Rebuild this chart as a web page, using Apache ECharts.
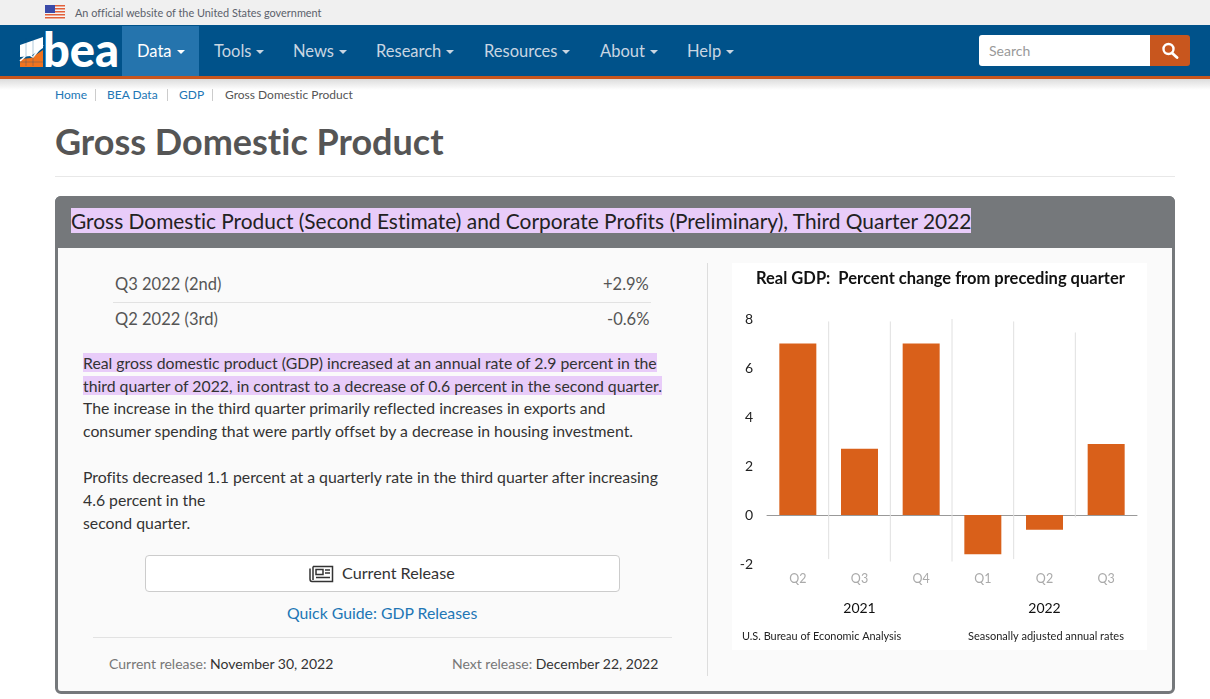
<!DOCTYPE html>
<html lang="en">
<head>
<meta charset="utf-8">
<title>Gross Domestic Product</title>
<script src="https://cdn.jsdelivr.net/npm/echarts@6/dist/echarts.min.js"></script>
<style>
  html, body { margin: 0; height: 100%; background: #fff; overflow: hidden; font-family: Lato, sans-serif; color: #333; font-variant-ligatures: none; }
  .abs, .abs * { box-sizing: border-box; }
  .abs { position: absolute; white-space: nowrap; }
  .banner { left: 0; top: 0; width: 1210px; height: 25px; background: #f0f0f0; }
  .nav { left: 0; top: 25px; width: 1210px; height: 51px; background: #00528a; }
  .stripe { left: 0; top: 76px; width: 1210px; height: 3px; background: #c8561e; }
  .shade { left: 0; top: 79px; width: 1210px; height: 11px; background: linear-gradient(#dcdcdc, #fff); }
  .tab { left: 122px; top: 26px; width: 77px; height: 50px; background: #2574ad; }
  .item { top: 41px; font-size: 16.5px; line-height: 21px; color: #c9d6e2; }
  .item::after { content: ""; display: inline-block; margin-left: 5px; vertical-align: 3px; border-left: 4px solid transparent; border-right: 4px solid transparent; border-top: 4px solid currentColor; }
  .crumb { top: 87px; font-size: 12px; line-height: 15px; }
  .link { color: #2176b5; }
  .sep { top: 89px; width: 1px; height: 12px; background: #ccc; }
  .panel { left: 55px; top: 196px; width: 1120px; height: 498px; background: #fafafa; border: 3px solid #75787b; border-radius: 6px; }
  .phead { left: 55px; top: 196px; width: 1120px; height: 52px; background: #75787b; border-radius: 6px 6px 0 0; }
  .mark { background: #e8ccf9; }
  .para { left: 83px; font-size: 15.8px; line-height: 23px; color: #333; }
  .row { font-size: 16.5px; line-height: 22px; color: #555; }
  .rule { height: 1px; background: #e2e2e2; }
  #main { position: absolute; left: 732px; top: 263px; width: 415px; height: 387px; }
</style>
</head>
<body>
<div class="abs banner"></div>
<svg class="abs" style="left:45px;top:5px" width="20" height="15" viewBox="0 0 20 15">
  <rect width="20" height="15" fill="#f4f4f4"/>
  <rect y="0" width="20" height="1.5" fill="#e2603a"/><rect y="3" width="20" height="1.5" fill="#e2603a"/>
  <rect y="6" width="20" height="1.5" fill="#e2603a"/><rect y="9" width="20" height="1.5" fill="#e2603a"/>
  <rect y="12" width="20" height="1.5" fill="#e2603a"/>
  <rect width="10" height="8" fill="#3a4aa8"/>
</svg>
<div class="abs" style="left:75px;top:5px;font-size:10.9px;line-height:15px;color:#5b616b">An official website of the United States government</div>

<div class="abs nav"></div>
<div class="abs stripe"></div>
<div class="abs shade"></div>
<div class="abs tab"></div>
<svg class="abs" style="left:19px;top:26px" width="26" height="50" viewBox="0 0 26 50">
  <path d="M1 19 L24 11 V22 L12 30 L1 31 Z" fill="#fff"/>
  <path d="M1 33 L12 32 L24 24 V41 H1 Z" fill="#f0731f"/>
  <path d="M1 35 L9 28 L14 31 L24 19" fill="none" stroke="#fff" stroke-width="1.6"/>
  <path d="M7 12 V40 M14 10 V40 M1 36 H24" fill="none" stroke="#00528a" stroke-width="0.6" opacity="0.5"/>
</svg>
<div class="abs" style="left:43px;top:21px;font-size:47px;font-weight:900;color:#fff">bea</div>
<div class="abs item" style="left:137px;color:#fff">Data</div>
<div class="abs item" style="left:214px">Tools</div>
<div class="abs item" style="left:293px">News</div>
<div class="abs item" style="left:376px">Research</div>
<div class="abs item" style="left:484px">Resources</div>
<div class="abs item" style="left:600px">About</div>
<div class="abs item" style="left:687px">Help</div>
<div class="abs" style="left:979px;top:35px;width:172px;height:31px;background:#fff;border-radius:3px 0 0 3px;font-size:14px;line-height:31px;padding-left:10px;color:#999">Search</div>
<div class="abs" style="left:1150px;top:35px;width:40px;height:31px;background:#c8561e;border-radius:0 3px 3px 0"></div>
<svg class="abs" style="left:1161px;top:42px" width="18" height="17" viewBox="0 0 18 17">
  <circle cx="7.5" cy="7" r="5" fill="none" stroke="#fff" stroke-width="2.4"/>
  <path d="M11 11 L16 15.5" stroke="#fff" stroke-width="2.8" stroke-linecap="round"/>
</svg>

<div class="abs crumb link" style="left:55px">Home</div>
<div class="abs sep" style="left:95px"></div>
<div class="abs crumb link" style="left:107px">BEA Data</div>
<div class="abs sep" style="left:167px"></div>
<div class="abs crumb link" style="left:179px">GDP</div>
<div class="abs sep" style="left:212px"></div>
<div class="abs crumb" style="left:225px;color:#555">Gross Domestic Product</div>

<div class="abs" style="left:55px;top:119px;font-size:36px;line-height:44px;font-weight:700;color:#555">Gross Domestic Product</div>
<div class="abs rule" style="left:55px;top:176px;width:1120px;background:#e8e8e8"></div>

<div class="abs panel"></div>
<div class="abs phead"></div>
<div class="abs" style="left:71px;top:208px;font-size:20.9px;line-height:25px;color:#222"><span class="mark">Gross Domestic Product (Second Estimate) and Corporate Profits (Preliminary), Third Quarter 2022</span></div>

<div class="abs row" style="left:115px;top:273px">Q3 2022 (2nd)</div>
<div class="abs row" style="left:603px;top:273px">+2.9%</div>
<div class="abs rule" style="left:113px;top:302px;width:538px"></div>
<div class="abs row" style="left:115px;top:308px">Q2 2022 (3rd)</div>
<div class="abs row" style="left:607px;top:308px">-0.6%</div>

<div class="abs para" style="top:351px"><span class="mark">Real gross domestic product (GDP) increased at an annual rate of 2.9 percent in the</span></div>
<div class="abs para" style="top:374px"><span class="mark">third quarter of 2022, in contrast to a decrease of 0.6 percent in the second quarter.</span></div>
<div class="abs para" style="top:396px">The increase in the third quarter primarily reflected increases in exports and</div>
<div class="abs para" style="top:419px">consumer spending that were partly offset by a decrease in housing investment.</div>
<div class="abs para" style="top:465px">Profits decreased 1.1 percent at a quarterly rate in the third quarter after increasing</div>
<div class="abs para" style="top:488px">4.6 percent in the</div>
<div class="abs para" style="top:511px">second quarter.</div>

<div class="abs" style="left:145px;top:555px;width:475px;height:37px;background:#fff;border:1px solid #ccc;border-radius:4px"></div>
<svg class="abs" style="left:309px;top:565px" width="25" height="18" viewBox="0 0 25 18" fill="none" stroke="#333" stroke-width="1.5">
  <path d="M4 1.5 H23.5 V16.5 H3 Q1 16.5 1 14 V3.5"/><path d="M4 1.5 V15"/>
  <rect x="7" y="4.5" width="7" height="5"/><path d="M16 5 H21 M16 8 H21 M7 12.5 H21"/>
</svg>
<div class="abs" style="left:342px;top:563px;font-size:16.2px;line-height:19px;color:#333">Current Release</div>
<div class="abs link" style="left:287px;top:603px;font-size:15.8px;line-height:19px">Quick Guide: GDP Releases</div>
<div class="abs rule" style="left:93px;top:637px;width:579px"></div>
<div class="abs" style="left:109px;top:655px;font-size:14px;line-height:17px;color:#333"><span style="color:#777">Current release:</span> November 30, 2022</div>
<div class="abs" style="left:452px;top:655px;font-size:14px;line-height:17px;color:#333"><span style="color:#777">Next release:</span> December 22, 2022</div>
<div class="abs" style="left:707px;top:263px;width:1px;height:413px;background:#ddd"></div>

<div id="main"></div>

<script type="text/javascript">
  var quarters = ['Q2', 'Q3', 'Q4', 'Q1', 'Q2', 'Q3'];
  var years = ['2021', '2022'];
  var gdpChange = [7.0, 2.7, 7.0, -1.6, -0.6, 2.9];
  var yTicks = [-2, 0, 2, 4, 6, 8];
  // thin year/quarter dividers, one after each of the first five bars: top and bottom in axis units
  var dividerTop = [7.9, 7.9, 8.0, 7.9, 7.45];
  var dividerBottom = [-1.8, -1.9, -1.9, -1.8, -0.1];

  var chartFont = 'Lato, "Noto Sans", sans-serif';
  var mychart1 = echarts.init(document.getElementById('main'));

  mychart1.setOption({
    animation: false,
    backgroundColor: '#fff',
    textStyle: { fontFamily: chartFont },
    title: [
      { text: 'Real GDP:  Percent change from preceding quarter', left: 19, top: 2,
        textStyle: { fontFamily: chartFont, fontSize: 16.5, fontWeight: 'bold', color: '#111' } },
      { text: 'U.S. Bureau of Economic Analysis', left: 5, top: 363,
        textStyle: { fontFamily: chartFont, fontSize: 10.9, fontWeight: 'normal', color: '#222' } },
      { text: 'Seasonally adjusted annual rates', left: 231, top: 363,
        textStyle: { fontFamily: chartFont, fontSize: 11, fontWeight: 'normal', color: '#222' } }
    ],
    grid: { left: 35, top: 56, width: 370, height: 245 },
    xAxis: [
      {
        type: 'category', data: quarters, position: 'bottom',
        axisLine: { show: false, onZero: false }, axisTick: { show: false },
        axisLabel: { color: '#aaa', fontSize: 12.5, margin: 8, interval: 0 }
      },
      {
        type: 'category', data: quarters, position: 'bottom',
        axisLine: { show: true, onZero: true, lineStyle: { color: '#999', width: 1 } },
        axisTick: { show: false }, axisLabel: { show: false }
      },
      {
        type: 'category', data: years, position: 'bottom', offset: 28,
        axisLine: { show: false, onZero: false }, axisTick: { show: false },
        axisLabel: { color: '#111', fontSize: 14, margin: 9, interval: 0 }
      }
    ],
    yAxis: {
      type: 'value', min: yTicks[0], max: yTicks[yTicks.length - 1], interval: 2,
      axisLine: { show: false }, axisTick: { show: false }, splitLine: { show: false },
      axisLabel: { color: '#222', fontSize: 14, margin: 14 }
    },
    series: [
      {
        type: 'custom',
        z: 1,
        silent: true,
        clip: false,
        data: dividerTop.map(function (top, i) { return [i, top, dividerBottom[i]]; }),
        renderItem: function (params, api) {
          var half = api.size([1, 0])[0] / 2;
          var a = api.coord([api.value(0), api.value(1)]);
          var b = api.coord([api.value(0), api.value(2)]);
          return {
            type: 'line',
            shape: { x1: a[0] + half, y1: a[1], x2: b[0] + half, y2: b[1] },
            style: { stroke: '#e0e0e0', lineWidth: 1 }
          };
        }
      },
      {
        name: 'Real GDP',
        type: 'bar',
        z: 2,
        barWidth: '60%',
        itemStyle: { color: '#d9601a' },
        data: gdpChange
      }
    ]
  });

  window.addEventListener('resize', mychart1.resize);
</script>
</body>
</html>
